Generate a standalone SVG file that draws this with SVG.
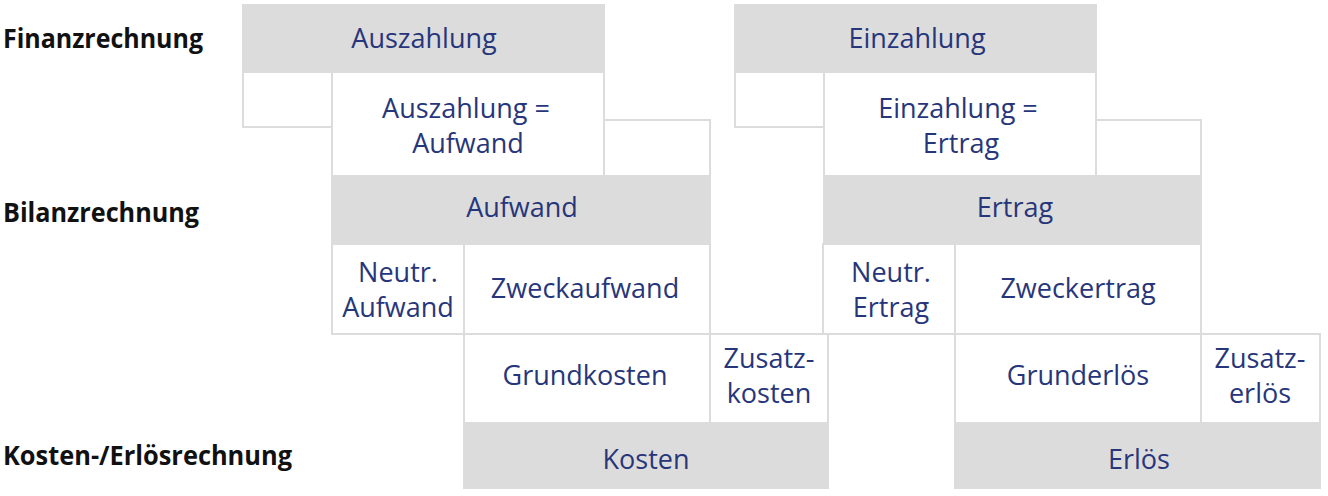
<svg xmlns="http://www.w3.org/2000/svg" width="1328" height="496" viewBox="0 0 1328 496">
<style>
.bg{fill:#ffffff}
.g{fill:#dcdcdc;stroke:#dcdcdc;stroke-width:2}
.w{fill:#ffffff;stroke:#dcdcdc;stroke-width:2}
.t{font-family:"Open Sans","Noto Sans","Liberation Sans",sans-serif;font-size:27px;fill:#27367a;text-anchor:middle}
.h{font-family:"Open Sans","Noto Sans","Liberation Sans",sans-serif;font-size:26px;font-weight:bold;fill:#111111}
</style>
<rect class="bg" x="0" y="0" width="1328" height="496"/>
<g id="labels">
<text class="h" x="3" y="48" textLength="200" lengthAdjust="spacingAndGlyphs">Finanzrechnung</text>
<text class="h" x="3" y="222" textLength="196" lengthAdjust="spacingAndGlyphs">Bilanzrechnung</text>
<text class="h" x="3" y="465" textLength="289" lengthAdjust="spacingAndGlyphs">Kosten-/Erlösrechnung</text>
</g>
<g id="connectors"></g>
<g id="left">
<g id="n-auszahlung-leer"><rect class="w" x="243" y="72" width="89" height="55"/></g>
<g id="n-aufwand-leer"><rect class="w" x="604" y="120" width="106" height="56"/></g>
<g id="n-auszahlung-aufwand"><rect class="w" x="332" y="72" width="272" height="104"/>
<text class="t" x="466" y="118">Auszahlung =</text><text class="t" x="468" y="153">Aufwand</text></g>
<g id="n-auszahlung"><rect class="g" x="243" y="5" width="361" height="67"/><text class="t" x="424" y="48">Auszahlung</text></g>
<g id="n-aufwand"><rect class="g" x="332" y="176" width="378" height="67"/><text class="t" x="522" y="217">Aufwand</text></g>
<g id="n-neutr-aufwand"><rect class="w" x="332" y="244" width="132" height="90"/>
<text class="t" x="398" y="282">Neutr.</text><text class="t" x="398" y="317">Aufwand</text></g>
<g id="n-zweckaufwand"><rect class="w" x="464" y="244" width="246" height="90"/><text class="t" x="585" y="298">Zweckaufwand</text></g>
<g id="n-grundkosten"><rect class="w" x="464" y="334" width="246" height="89"/><text class="t" x="585" y="385">Grundkosten</text></g>
<g id="n-zusatzkosten"><rect class="w" x="710" y="334" width="118" height="89"/>
<text class="t" x="769" y="368">Zusatz-</text><text class="t" x="769" y="403">kosten</text></g>
<g id="n-kosten"><rect class="g" x="464" y="423" width="364" height="65"/><text class="t" x="646" y="469">Kosten</text></g>
</g>
<g id="right">
<g id="n-einzahlung-leer"><rect class="w" x="735" y="72" width="89" height="55"/></g>
<g id="n-ertrag-leer"><rect class="w" x="1096" y="120" width="105" height="56"/></g>
<g id="n-einzahlung-ertrag"><rect class="w" x="824" y="72" width="272" height="104"/>
<text class="t" x="958" y="118">Einzahlung =</text><text class="t" x="961" y="153">Ertrag</text></g>
<g id="n-einzahlung"><rect class="g" x="735" y="5" width="361" height="67"/><text class="t" x="917" y="48">Einzahlung</text></g>
<g id="n-ertrag"><rect class="g" x="824" y="176" width="377" height="67"/><text class="t" x="1015" y="217">Ertrag</text></g>
<g id="n-neutr-ertrag"><rect class="w" x="823" y="244" width="132" height="90"/>
<text class="t" x="891" y="282">Neutr.</text><text class="t" x="891" y="317">Ertrag</text></g>
<g id="n-zweckertrag"><rect class="w" x="955" y="244" width="246" height="90"/><text class="t" x="1078" y="298">Zweckertrag</text></g>
<g id="n-grunderloes"><rect class="w" x="955" y="334" width="246" height="89"/><text class="t" x="1078" y="385">Grunderlös</text></g>
<g id="n-zusatzerloes"><rect class="w" x="1201" y="334" width="119" height="89"/>
<text class="t" x="1260" y="368">Zusatz-</text><text class="t" x="1260" y="403">erlös</text></g>
<g id="n-erloes"><rect class="g" x="955" y="423" width="365" height="65"/><text class="t" x="1139" y="469">Erlös</text></g>
</g>
</svg>
